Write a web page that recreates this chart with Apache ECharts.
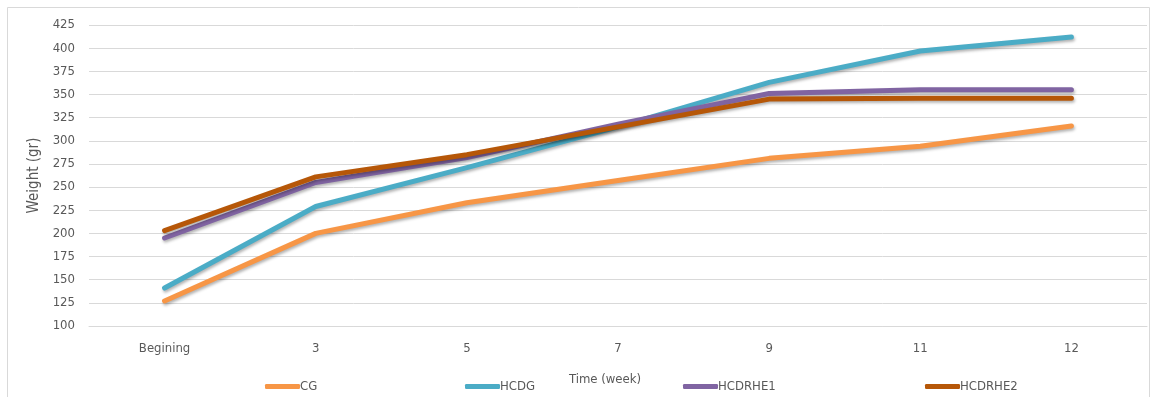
<!DOCTYPE html>
<html>
<head>
<meta charset="utf-8">
<script src="https://cdn.jsdelivr.net/npm/echarts@6/dist/echarts.min.js"></script>
<style>
html,body{margin:0;padding:0;background:#fff;}
#c{width:1157px;height:397px;}
</style>
</head>
<body>
<div id="c"></div>
<script>
var categories = ['Begining', '3', '5', '7', '9', '11', '12'];
var CG       = [127, 200, 233, 257, 281, 294, 316];
var HCDG     = [141, 229, 271, 315, 363, 397, 412];
var HCDRHE1  = [195, 255, 282, 318, 351, 355, 355];
var HCDRHE2  = [203, 261, 285, 315, 345, 346, 346];
var yTicks = {min: 100, max: 425, interval: 25};

var FONT = '"Liberation Sans Narrow", "DejaVu Sans Condensed", "Open Sans", sans-serif';
var colors = {CG: '#F79646', HCDG: '#4BACC6', HCDRHE1: '#8064A2', HCDRHE2: '#B65708'};
var names = ['CG', 'HCDG', 'HCDRHE1', 'HCDRHE2'];
var values = {CG: CG, HCDG: HCDG, HCDRHE1: HCDRHE1, HCDRHE2: HCDRHE2};
var legendLeft = [265, 465, 683, 925];

var chart = echarts.init(document.getElementById('c'));
chart.setOption({
  animation: false,
  backgroundColor: '#fff',
  graphic: [{
    type: 'rect',
    shape: {x: 7.5, y: 7.5, width: 1142, height: 400},
    style: {fill: 'none', stroke: '#D9D9D9', lineWidth: 1},
    silent: true
  }],
  grid: {left: 89, right: 10, top: 25, bottom: 71},
  legend: names.map(function (n, i) {
    return {
      data: [n],
      left: legendLeft[i],
      top: 380,
      itemWidth: 35,
      itemHeight: 5,
      itemGap: 0,
      icon: 'roundRect',
      padding: 0,
      textStyle: {fontFamily: FONT, fontSize: 13, color: '#595959', padding: [0, 0, 0, -5]}
    };
  }),
  xAxis: {
    type: 'category',
    data: categories,
    boundaryGap: true,
    name: 'Time (week)',
    nameLocation: 'middle',
    nameGap: 47,
    nameTextStyle: {fontFamily: FONT, fontSize: 13, color: '#595959', padding: [0, 26, 0, 0]},
    axisLine: {show: true, lineStyle: {color: '#D9D9D9', width: 1}},
    axisTick: {show: false},
    axisLabel: {fontFamily: FONT, fontSize: 13, color: '#595959', margin: 16}
  },
  yAxis: {
    type: 'value',
    min: yTicks.min,
    max: yTicks.max,
    interval: yTicks.interval,
    name: 'Weight (gr)',
    nameLocation: 'middle',
    nameGap: 47,
    nameRotate: 90,
    nameTextStyle: {fontFamily: FONT, fontSize: 15, color: '#595959'},
    axisLine: {show: false},
    axisTick: {show: false},
    axisLabel: {fontFamily: FONT, fontSize: 13, color: '#595959', margin: 14},
    splitLine: {lineStyle: {color: '#D9D9D9', width: 1}}
  },
  series: names.map(function (n) {
    return {
      name: n,
      type: 'line',
      data: values[n],
      symbol: 'none',
      color: colors[n],
      lineStyle: {
        width: 5,
        color: colors[n],
        cap: 'round',
        join: 'round',
        shadowColor: 'rgba(0,0,0,0.3)',
        shadowBlur: 3,
        shadowOffsetX: 1,
        shadowOffsetY: 2
      }
    };
  })
});
</script>
</body>
</html>
